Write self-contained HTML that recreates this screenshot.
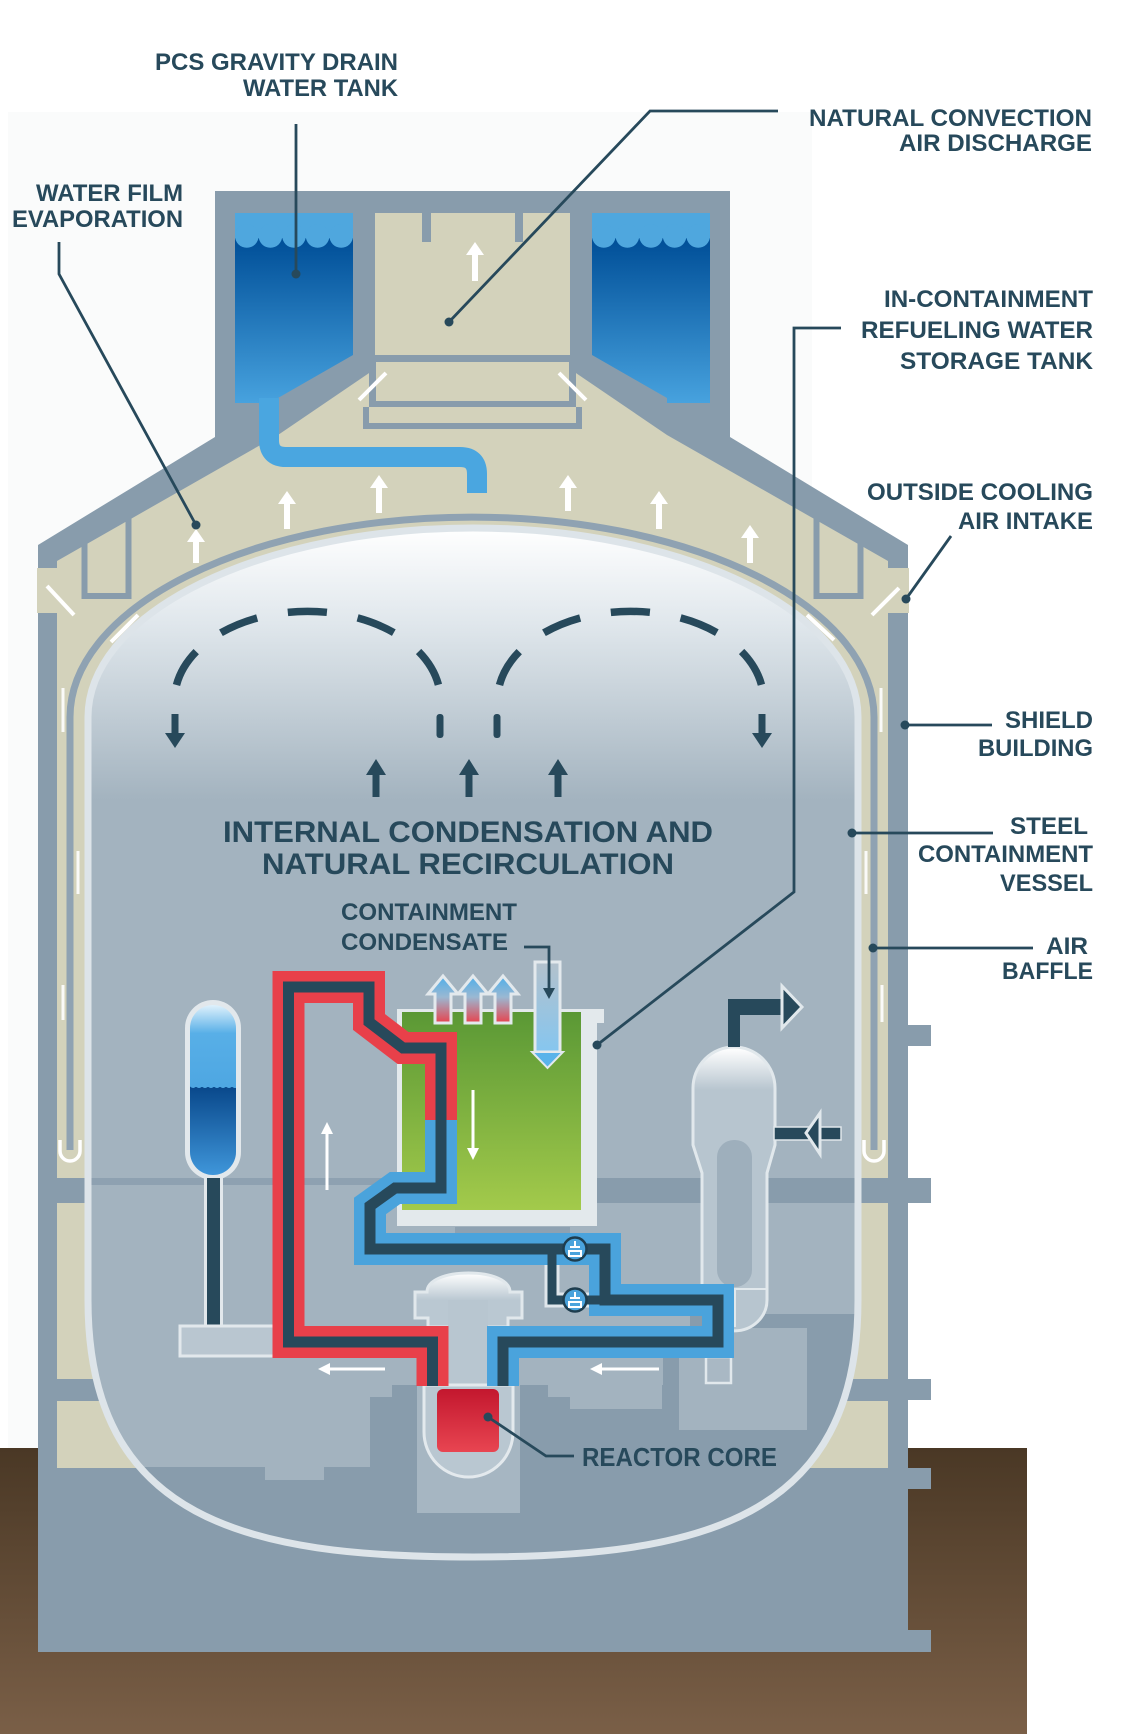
<!DOCTYPE html>
<html><head><meta charset="utf-8"><style>
html,body{margin:0;padding:0;background:#fff;}
svg{display:block;}
text{font-family:"Liberation Sans",Arial,sans-serif;font-weight:bold;fill:#27495b;}
</style></head><body>
<svg width="1126" height="1734" viewBox="0 0 1126 1734" xmlns="http://www.w3.org/2000/svg">
<defs>
 <linearGradient id="ground" x1="0" y1="0" x2="0" y2="1"><stop offset="0" stop-color="#4a3825"/><stop offset="1" stop-color="#7a5f47"/></linearGradient>
 <linearGradient id="water" gradientUnits="userSpaceOnUse" x1="0" y1="240" x2="0" y2="405"><stop offset="0" stop-color="#004f98"/><stop offset="1" stop-color="#48a3df"/></linearGradient>
 <linearGradient id="dome" gradientUnits="userSpaceOnUse" x1="0" y1="528" x2="0" y2="800"><stop offset="0" stop-color="#ffffff"/><stop offset="0.35" stop-color="#e0e7ec"/><stop offset="1" stop-color="#a3b3bf"/></linearGradient>
 <linearGradient id="green" gradientUnits="userSpaceOnUse" x1="0" y1="1012" x2="0" y2="1210"><stop offset="0" stop-color="#5a9835"/><stop offset="1" stop-color="#a3ca4b"/></linearGradient>
 <linearGradient id="vent" gradientUnits="userSpaceOnUse" x1="0" y1="976" x2="0" y2="1023"><stop offset="0" stop-color="#4eaee9"/><stop offset="0.45" stop-color="#9ab8d2"/><stop offset="1" stop-color="#e8434d"/></linearGradient>
 <linearGradient id="core" x1="0" y1="0" x2="0" y2="1"><stop offset="0" stop-color="#c3172e"/><stop offset="1" stop-color="#e84551"/></linearGradient>
 <linearGradient id="sgtop" gradientUnits="userSpaceOnUse" x1="0" y1="1048" x2="0" y2="1090"><stop offset="0" stop-color="#ffffff"/><stop offset="1" stop-color="#b7c5cf"/></linearGradient>
 <linearGradient id="rxtop" gradientUnits="userSpaceOnUse" x1="0" y1="1273" x2="0" y2="1300"><stop offset="0" stop-color="#ffffff"/><stop offset="1" stop-color="#bac8d2"/></linearGradient>
 <linearGradient id="acclight" gradientUnits="userSpaceOnUse" x1="0" y1="1005" x2="0" y2="1086"><stop offset="0" stop-color="#dff1fc"/><stop offset="0.35" stop-color="#58afe7"/><stop offset="1" stop-color="#4ea7e2"/></linearGradient>
 <linearGradient id="accdark" gradientUnits="userSpaceOnUse" x1="0" y1="1086" x2="0" y2="1175"><stop offset="0" stop-color="#08478a"/><stop offset="1" stop-color="#3f96da"/></linearGradient>
 <linearGradient id="cond" gradientUnits="userSpaceOnUse" x1="0" y1="962" x2="0" y2="1052"><stop offset="0" stop-color="#b3c1cc"/><stop offset="1" stop-color="#86c6ef"/></linearGradient>
 <clipPath id="vc"><path d="M88,717 A385,189 0 0 1 858,717 L858,1300 C858,1520 700,1557 473,1557 C246,1557 88,1520 88,1300 Z"/></clipPath>
 <clipPath id="tankL"><polygon points="235,213 353,213 353,355 278,398 278,403 235,403"/></clipPath>
 <clipPath id="tankR"><polygon points="592,213 710,213 710,403 667,403 667,398 592,355"/></clipPath>
 <clipPath id="acc"><rect x="190" y="1005" width="46" height="170" rx="23"/></clipPath>
</defs>

<!-- faint backdrop -->
<rect x="8" y="112" width="804" height="1336" fill="#fafbfb"/>

<!-- ground -->
<rect x="0" y="1448" width="1027" height="286" fill="url(#ground)"/>

<!-- shield building silhouette -->
<path d="M215,191 H730 V437 L908,545 V1652 H38 V545 L215,437 Z" fill="#889cac"/>
<g fill="#889cac">
 <rect x="906" y="1025" width="25" height="21"/>
 <rect x="906" y="1178" width="25" height="25"/>
 <rect x="906" y="1379" width="25" height="21"/>
 <rect x="906" y="1468" width="25" height="21"/>
 <rect x="906" y="1630" width="25" height="22"/>
</g>

<!-- beige air space -->
<path d="M375,213 H570 V369 L667,435 L888,561 V1468 H57 V561 L278,435 L375,369 Z" fill="#d3d2bb"/>
<rect x="887" y="568" width="22" height="45" fill="#d3d2bb"/>
<rect x="37" y="568" width="22" height="45" fill="#d3d2bb"/>
<rect x="38" y="1178" width="870" height="25" fill="#889cac"/>
<rect x="38" y="1379" width="870" height="22" fill="#889cac"/>

<!-- PCS tanks -->
<g clip-path="url(#tankL)">
 <rect x="235" y="213" width="118" height="190" fill="url(#water)"/>
 <rect x="235" y="213" width="118" height="25" fill="#4fa7de"/>
 <g fill="#4fa7de"><circle cx="246.8" cy="236" r="11.8"/><circle cx="270.4" cy="236" r="11.8"/><circle cx="294" cy="236" r="11.8"/><circle cx="317.6" cy="236" r="11.8"/><circle cx="341.2" cy="236" r="11.8"/></g>
</g>
<g clip-path="url(#tankR)">
 <rect x="592" y="213" width="118" height="190" fill="url(#water)"/>
 <rect x="592" y="213" width="118" height="25" fill="#4fa7de"/>
 <g fill="#4fa7de"><circle cx="603.8" cy="236" r="11.8"/><circle cx="627.4" cy="236" r="11.8"/><circle cx="651" cy="236" r="11.8"/><circle cx="674.6" cy="236" r="11.8"/><circle cx="698.2" cy="236" r="11.8"/></g>
</g>

<!-- chimney structure -->
<g fill="#889cac">
 <rect x="422" y="213" width="9" height="29"/>
 <rect x="515" y="213" width="8" height="29"/>
 <rect x="375" y="355" width="195" height="7"/>
 <rect x="369" y="355" width="7" height="52"/>
 <rect x="569" y="355" width="7" height="52"/>
 <rect x="369" y="401" width="207" height="6"/>
 <rect x="363" y="407" width="6" height="22"/>
 <rect x="576" y="407" width="6" height="22"/>
 <rect x="363" y="423" width="219" height="6"/>
</g>
<!-- shoulder boxes -->
<g stroke="#889cac" stroke-width="6" fill="none">
 <path d="M84.5,540 V596 H128.5 V516"/>
 <path d="M860.5,540 V596 H816.5 V516"/>
</g>

<!-- louvers -->
<g stroke="#ffffff" stroke-width="4" stroke-linecap="butt">
 <line x1="47" y1="586" x2="74" y2="615"/>
 <line x1="111" y1="642" x2="138" y2="615"/>
 <line x1="872" y1="615" x2="899" y2="588"/>
 <line x1="807" y1="615" x2="834" y2="640"/>
 <line x1="359" y1="400" x2="386" y2="373"/>
 <line x1="559" y1="373" x2="586" y2="400"/>
</g>

<!-- white up arrows in air space -->
<g fill="#ffffff">
 <path d="M475,242 L484,255 L478,255 L478,281 L472,281 L472,255 L466,255 Z"/>
 <path d="M196,529 L205,542 L199,542 L199,563 L193,563 L193,542 L187,542 Z"/>
 <path d="M287,491 L296,504 L290,504 L290,529 L284,529 L284,504 L278,504 Z"/>
 <path d="M379,475 L388,488 L382,488 L382,513 L376,513 L376,488 L370,488 Z"/>
 <path d="M568,475 L577,488 L571,488 L571,511 L565,511 L565,488 L559,488 Z"/>
 <path d="M659,491 L668,504 L662,504 L662,529 L656,529 L656,504 L650,504 Z"/>
 <path d="M750,525 L759,538 L753,538 L753,563 L747,563 L747,538 L741,538 Z"/>
</g>

<!-- drain pipe -->
<path d="M269,398 V440 Q269,457 286,457 H460 Q477,457 477,474 V493" fill="none" stroke="#4aa6e0" stroke-width="20"/>

<!-- air baffle -->
<path d="M70,1150 V717 A402,200 0 0 1 874,717 V1150" fill="none" stroke="#8fa2b2" stroke-width="7"/>

<!-- vessel interior -->
<path d="M88,717 A385,189 0 0 1 858,717 L858,1300 C858,1520 700,1557 473,1557 C246,1557 88,1520 88,1300 Z" fill="url(#dome)"/>
<g clip-path="url(#vc)">
 <rect x="88" y="1178" width="509" height="7" fill="#8ea1b1"/>
 <rect x="597" y="1178" width="262" height="25" fill="#889cac"/>
 <rect x="455" y="1227" width="115" height="6" fill="#8ea1b1"/>
 <rect x="88" y="1385" width="771" height="180" fill="#889cac"/>
 <rect x="663" y="1357" width="16" height="28" fill="#889cac"/>
 <rect x="690" y="1314" width="169" height="71" fill="#889cac"/>
 <g fill="#a3b3bf">
  <rect x="88" y="1385" width="282" height="82"/>
  <rect x="265" y="1467" width="59" height="13"/>
  <rect x="370" y="1385" width="22" height="12"/>
  <rect x="548" y="1385" width="22" height="12"/>
  <rect x="570" y="1385" width="92" height="24"/>
  <rect x="679" y="1328" width="128" height="102"/>
 </g>
 <rect x="417" y="1385" width="103" height="128" fill="#a6b6c2"/>
</g>
<path d="M88,717 A385,189 0 0 1 858,717 L858,1300 C858,1520 700,1557 473,1557 C246,1557 88,1520 88,1300 Z" fill="none" stroke="#dde4e9" stroke-width="7"/>

<!-- baffle U ends and highlights -->
<g fill="none" stroke="#ffffff" stroke-width="3.5">
 <path d="M60,1140 V1151 A10,10 0 0 0 80,1151 V1140"/>
 <path d="M864,1140 V1151 A10,10 0 0 0 884,1151 V1140"/>
</g>
<g stroke="#ffffff" stroke-width="3" opacity="0.9">
 <line x1="63" y1="688" x2="63" y2="732"/>
 <line x1="63" y1="985" x2="63" y2="1020"/>
 <line x1="78" y1="851" x2="78" y2="894"/>
 <line x1="881" y1="688" x2="881" y2="732"/>
 <line x1="882" y1="985" x2="882" y2="1022"/>
 <line x1="866" y1="851" x2="866" y2="894"/>
</g>

<!-- dome circulation -->
<g fill="none" stroke="#27495b" stroke-width="7.5">
 <path d="M176.5,685 A133,89 0 0 1 438.5,685" pathLength="319" stroke-dasharray="39 31"/>
 <path d="M499.5,685 A133,89 0 0 1 761.5,685" pathLength="319" stroke-dasharray="39 31"/>
</g>
<g fill="#27495b">
 <rect x="171.5" y="714" width="7" height="22"/>
 <polygon points="165,733 185,733 175,748"/>
 <rect x="758.5" y="714" width="7" height="22"/>
 <polygon points="752,733 772,733 762,748"/>
 <rect x="436.5" y="714" width="7" height="24" rx="3"/>
 <rect x="493.5" y="714" width="7" height="24" rx="3"/>
 <rect x="372.5" y="772" width="7" height="25"/>
 <polygon points="366,775 386,775 376,759"/>
 <rect x="465.5" y="772" width="7" height="25"/>
 <polygon points="459,775 479,775 469,759"/>
 <rect x="554.5" y="772" width="7" height="25"/>
 <polygon points="548,775 568,775 558,759"/>
</g>
<text x="223" y="842" font-size="30" textLength="490" lengthAdjust="spacingAndGlyphs">INTERNAL CONDENSATION AND</text>
<text x="262" y="874" font-size="30" textLength="412" lengthAdjust="spacingAndGlyphs">NATURAL RECIRCULATION</text>
<text x="341" y="920" font-size="24" textLength="176" lengthAdjust="spacingAndGlyphs">CONTAINMENT</text>
<text x="341" y="950" font-size="24" textLength="167" lengthAdjust="spacingAndGlyphs">CONDENSATE</text>

<!-- accumulator / CMT -->
<rect x="185" y="1000" width="56" height="180" rx="28" fill="#e2e8ec"/>
<g clip-path="url(#acc)">
 <rect x="190" y="1005" width="46" height="82" fill="url(#acclight)"/>
 <rect x="190" y="1086" width="46" height="90" fill="url(#accdark)"/>
 <path d="M190,1085 q3,4 6,0 q3,4 6,0 q3,4 6,0 q3,4 6,0 q3,4 6,0 q3,4 6,0 q3,4 6,0 q3,4 6,0" fill="none" stroke="#4ea7e2" stroke-width="2"/>
</g>
<rect x="204" y="1178" width="19" height="150" fill="#e2e8ec"/>
<rect x="207" y="1178" width="13" height="150" fill="#27495b"/>
<rect x="180" y="1326" width="94" height="30" fill="#b9c6d0" stroke="#e2e8ec" stroke-width="3"/>

<!-- IRWST green tank -->
<rect x="397" y="1009" width="200" height="217" fill="#e3e9ec"/>
<rect x="582" y="1009" width="22" height="14" fill="#e3e9ec"/>
<rect x="402" y="1012" width="179" height="198" fill="url(#green)"/>
<g fill="url(#vent)" stroke="#e3e9ed" stroke-width="3" stroke-linejoin="miter">
 <path d="M443,976 L458,994 L451,994 L451,1023 L435,1023 L435,994 L428,994 Z"/>
 <path d="M473,976 L488,994 L481,994 L481,1023 L465,1023 L465,994 L458,994 Z"/>
 <path d="M503,976 L518,994 L511,994 L511,1023 L495,1023 L495,994 L488,994 Z"/>
</g>
<rect x="535" y="962" width="25" height="90" fill="url(#cond)" stroke="#e3e9ed" stroke-width="3"/>
<polygon points="532,1052 563,1052 547.5,1068" fill="#5ab3ea" stroke="#e3e9ed" stroke-width="2"/>
<path d="M524,947 H549 V991" fill="none" stroke="#27495b" stroke-width="2.8"/>
<polygon points="543,988 555,988 549,999" fill="#27495b"/>

<!-- steam generator -->
<path d="M693,1088 A41,41 0 0 1 775,1088 V1145 L767,1173 V1300 A29.5,28 0 0 1 702,1300 V1173 L693,1145 Z" fill="url(#sgtop)" stroke="#e1e8ec" stroke-width="3"/>
<rect x="717" y="1140" width="35" height="147" rx="17" fill="#9eafbc"/>
<line x1="703" y1="1289" x2="766" y2="1289" stroke="#e1e8ec" stroke-width="2"/>
<line x1="735" y1="1289" x2="735" y2="1327" stroke="#e1e8ec" stroke-width="2"/>
<rect x="706" y="1357" width="25" height="26" fill="#a9b8c4" stroke="#e1e8ec" stroke-width="2.5"/>
<path d="M728,1047 V999 H784 V1015 H740 V1047 Z" fill="#27495b"/>
<polygon points="782,986 802,1007 782,1028" fill="#27495b" stroke="#e1e8ec" stroke-width="3"/>
<rect x="774" y="1127" width="67" height="13" fill="#27495b" stroke="#e1e8ec" stroke-width="1.5"/>
<polygon points="806,1133 820,1113 820,1154" fill="#27495b" stroke="#e1e8ec" stroke-width="3"/>

<!-- reactor -->
<path d="M448,1390 V1327 H428 V1318 H415 V1292 H427 C427,1280 446,1273 468.5,1273 C491,1273 510,1280 510,1292 H522 V1318 H508 V1327 H488 V1390 Z" fill="url(#rxtop)" stroke="#e1e8ec" stroke-width="3"/>
<rect x="448" y="1300" width="40" height="90" fill="#b8c6d0"/>
<path d="M424,1385 V1432 A44.5,45 0 0 0 513,1432 V1385 Z" fill="#b9c7d1" stroke="#e3e9ed" stroke-width="3"/>
<rect x="437" y="1389" width="62" height="63" rx="6" fill="url(#core)"/>

<!-- coolant loop -->
<g fill="none" stroke-linejoin="miter" stroke-miterlimit="10" stroke-linecap="butt">
 <path d="M552,1249 V1300 H605" stroke="#dfe6eb" stroke-width="15"/>
 <path d="M432.5,1386 V1342 H288.5 V987 H369 V1022 L403,1048 H441 V1121" stroke="#e8404a" stroke-width="32"/>
 <path d="M441,1120 V1188 H395 L370,1206 V1249 H605 V1300 H718 V1342 H503 V1386" stroke="#4aa3dc" stroke-width="32"/>
 <path d="M432.5,1386 V1342 H288.5 V987 H369 V1022 L403,1048 H441 V1188 H395 L370,1206 V1249 H605 V1300 H718 V1342 H503 V1386" stroke="#27495b" stroke-width="11"/>
 <path d="M552,1249 V1300 H605" stroke="#27495b" stroke-width="9"/>
</g>
<g>
 <circle cx="575" cy="1249" r="11.5" fill="#4aa3dc" stroke="#1e3d4e" stroke-width="2.5"/>
 <circle cx="575" cy="1300" r="11.5" fill="#4aa3dc" stroke="#1e3d4e" stroke-width="2.5"/>
 <g stroke="#ffffff" stroke-width="2" fill="none">
  <path d="M575,1241 V1247 M570,1247 H580 M569,1251 H581 V1256 H569 Z"/>
  <path d="M575,1292 V1298 M570,1298 H580 M569,1302 H581 V1307 H569 Z"/>
 </g>
</g>

<!-- small white flow arrows -->
<g stroke="#ffffff" stroke-width="3" fill="#ffffff">
 <line x1="327" y1="1190" x2="327" y2="1132"/>
 <polygon points="321,1134 333,1134 327,1122" stroke="none"/>
 <line x1="473" y1="1090" x2="473" y2="1150"/>
 <polygon points="467,1148 479,1148 473,1160" stroke="none"/>
 <line x1="385" y1="1369" x2="328" y2="1369"/>
 <polygon points="330,1363 330,1375 318,1369" stroke="none"/>
 <line x1="659" y1="1369" x2="600" y2="1369"/>
 <polygon points="602,1363 602,1375 590,1369" stroke="none"/>
</g>

<!-- leaders -->
<g fill="none" stroke="#27495b" stroke-width="2.8">
 <path d="M296,124 V274"/>
 <path d="M778,111 H650 L449,322"/>
 <path d="M59,242 V274 L196,525"/>
 <path d="M841,328 H794 V892 L597,1045"/>
 <path d="M951,536 L906,599"/>
 <path d="M992,725 H905"/>
 <path d="M993,833 H852"/>
 <path d="M1033,948 H873"/>
 <path d="M574,1456 H546 L488,1417"/>
</g>
<g fill="#27495b">
 <circle cx="296" cy="274" r="4.5"/>
 <circle cx="449" cy="322" r="4.5"/>
 <circle cx="196" cy="525" r="4.5"/>
 <circle cx="597" cy="1045" r="4.5"/>
 <circle cx="906" cy="599" r="4.5"/>
 <circle cx="905" cy="725" r="4.5"/>
 <circle cx="852" cy="833" r="4.5"/>
 <circle cx="873" cy="948" r="4.5"/>
 <circle cx="488" cy="1417" r="4.5"/>
</g>

<!-- labels -->
<g font-size="24">
 <text x="155" y="70" textLength="243" lengthAdjust="spacingAndGlyphs">PCS GRAVITY DRAIN</text>
 <text x="243" y="96" textLength="155" lengthAdjust="spacingAndGlyphs">WATER TANK</text>
 <text x="809" y="126" textLength="283" lengthAdjust="spacingAndGlyphs">NATURAL CONVECTION</text>
 <text x="899" y="151" textLength="193" lengthAdjust="spacingAndGlyphs">AIR DISCHARGE</text>
 <text x="36" y="201" textLength="147" lengthAdjust="spacingAndGlyphs">WATER FILM</text>
 <text x="12" y="227" textLength="171" lengthAdjust="spacingAndGlyphs">EVAPORATION</text>
 <text x="884" y="307" textLength="209" lengthAdjust="spacingAndGlyphs">IN-CONTAINMENT</text>
 <text x="861" y="338" textLength="232" lengthAdjust="spacingAndGlyphs">REFUELING WATER</text>
 <text x="900" y="369" textLength="193" lengthAdjust="spacingAndGlyphs">STORAGE TANK</text>
 <text x="867" y="500" textLength="226" lengthAdjust="spacingAndGlyphs">OUTSIDE COOLING</text>
 <text x="958" y="529" textLength="135" lengthAdjust="spacingAndGlyphs">AIR INTAKE</text>
 <text x="1005" y="728" textLength="88" lengthAdjust="spacingAndGlyphs">SHIELD</text>
 <text x="978" y="756" textLength="115" lengthAdjust="spacingAndGlyphs">BUILDING</text>
 <text x="1010" y="834" textLength="78" lengthAdjust="spacingAndGlyphs">STEEL</text>
 <text x="918" y="862" textLength="175" lengthAdjust="spacingAndGlyphs">CONTAINMENT</text>
 <text x="1000" y="891" textLength="93" lengthAdjust="spacingAndGlyphs">VESSEL</text>
 <text x="1046" y="954" textLength="42" lengthAdjust="spacingAndGlyphs">AIR</text>
 <text x="1002" y="979" textLength="91" lengthAdjust="spacingAndGlyphs">BAFFLE</text>
</g>
<text x="582" y="1466" font-size="26" textLength="195" lengthAdjust="spacingAndGlyphs">REACTOR CORE</text>
</svg>
</body></html>
